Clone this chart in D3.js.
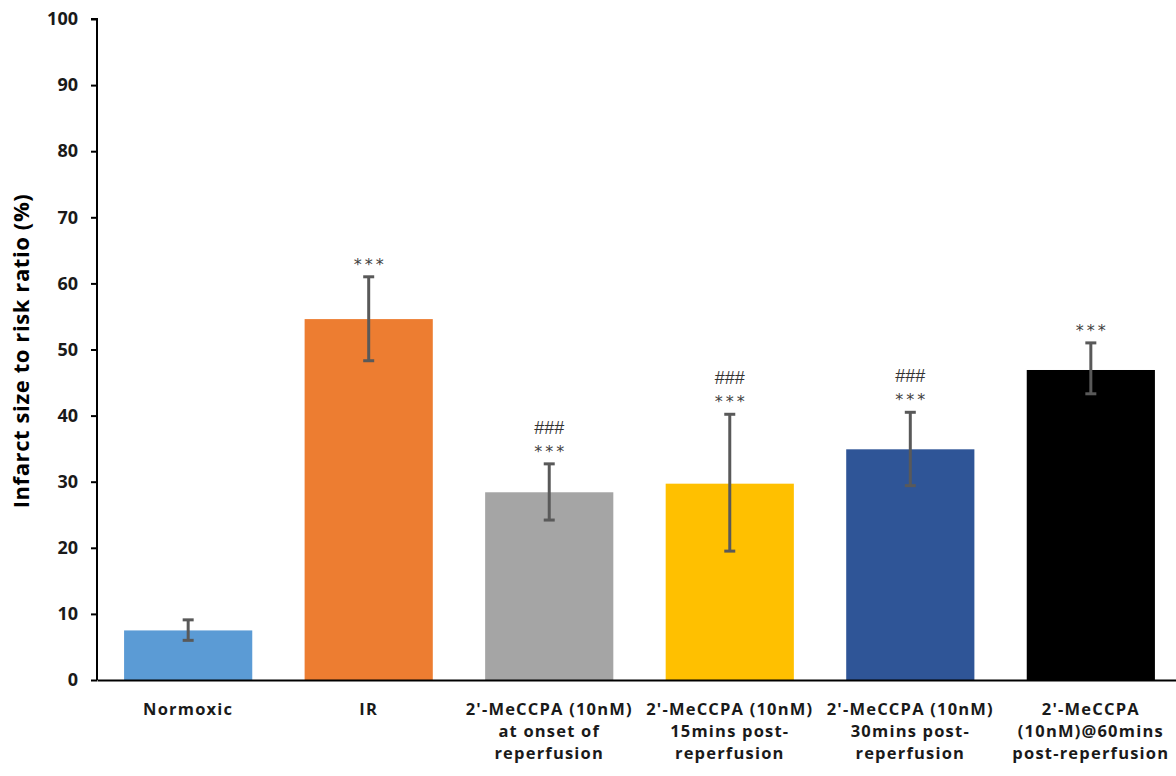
<!DOCTYPE html>
<html><head><meta charset="utf-8">
<script src="https://cdn.jsdelivr.net/npm/d3@7"></script>
<style>body{margin:0;background:#fff}svg{display:block}</style>
</head><body>
<svg id="c" width="1176" height="776"></svg>
<script>
const categories = ["Normoxic","IR","2'-MeCCPA (10nM)|at onset of|reperfusion","2'-MeCCPA (10nM)|15mins post-|reperfusion","2'-MeCCPA (10nM)|30mins post-|reperfusion","2'-MeCCPA|(10nM)@60mins|post-reperfusion"];
const values = [7.5, 54.6, 28.4, 29.7, 34.9, 46.9];
const errLow = [6.0, 48.3, 24.2, 19.5, 29.4, 43.3];
const errHigh = [9.1, 61.0, 32.7, 40.2, 40.5, 51.0];
const colors = ["#5b9bd5","#ed7d31","#a5a5a5","#ffc000","#2f5597","#000000"];
const stars = ["", "***", "***", "***", "***", "***"];
const hashes = ["", "", "###", "###", "###", ""];
const yTicks = [0,10,20,30,40,50,60,70,80,90,100];

const svg = d3.select("#c");
const mLeft = 97, mRight = 1182, mTop = 19, mBottom = 680;
const x = d3.scaleBand().domain(d3.range(categories.length)).range([mLeft, mRight]).paddingInner(0.29).paddingOuter(0.15);
const y = d3.scaleLinear().domain([0,100]).range([mBottom, mTop]);

const font = "'Open Sans', Lato, sans-serif";

// bars
svg.selectAll("rect.bar").data(values).enter().append("rect")
  .attr("x", (d,i)=>x(i)).attr("width", x.bandwidth())
  .attr("y", d=>y(d)).attr("height", d=>y(0)-y(d))
  .attr("fill", (d,i)=>colors[i]);

// y axis
const yAxis = d3.axisLeft(y).tickValues(yTicks).tickSize(6).tickPadding(13);
const gy = svg.append("g").attr("transform", `translate(${mLeft},0)`).call(yAxis);
gy.select(".domain").attr("stroke","#000").attr("stroke-width",2).attr("d", `M-6,${mTop}H0V${mBottom}`);
gy.selectAll(".tick line").attr("stroke","#000").attr("stroke-width",2);
gy.selectAll(".tick text").attr("font-family", font).attr("font-weight","bold").attr("font-size", 18).attr("fill","#1a1a1a");

// x axis
const gx = svg.append("g").attr("transform", `translate(0,${mBottom})`).call(d3.axisBottom(x).tickSize(0).tickFormat(""));
gx.select(".domain").attr("stroke","#000").attr("stroke-width",2);
gx.selectAll(".tick").each(function(d){
  const g = d3.select(this);
  g.select("text").remove();
  categories[d].split("|").forEach((line,k)=>{
    g.append("text").attr("x",0).attr("y", 35 + k*22).attr("text-anchor","middle")
      .attr("font-family", font).attr("font-weight","bold").attr("font-size",16.5).attr("letter-spacing",1.2)
      .attr("fill","#1a1a1a").text(line);
  });
});

// error bars
const eg = svg.append("g").attr("stroke","#595959").attr("stroke-width",3);
values.forEach((v,i)=>{
  const cx = x(i)+x.bandwidth()/2;
  eg.append("line").attr("x1",cx).attr("x2",cx).attr("y1",y(errLow[i])).attr("y2",y(errHigh[i]));
  eg.append("line").attr("x1",cx-5.5).attr("x2",cx+5.5).attr("y1",y(errLow[i])).attr("y2",y(errLow[i]));
  eg.append("line").attr("x1",cx-5.5).attr("x2",cx+5.5).attr("y1",y(errHigh[i])).attr("y2",y(errHigh[i]));
  if (stars[i]) svg.append("text").attr("x",cx+1.5).attr("y",y(errHigh[i])-7).attr("text-anchor","middle")
    .attr("font-family","'DejaVu Sans', sans-serif").attr("font-size",16).attr("letter-spacing",3).attr("fill","#404040").text(stars[i]);
  if (hashes[i]) svg.append("text").attr("x",cx).attr("y",y(errHigh[i])-30).attr("text-anchor","middle")
    .attr("font-family","'Liberation Sans', sans-serif").attr("font-size",18).attr("fill","#333").text(hashes[i]);
});

// y title
svg.append("text").attr("transform","translate(29,351) rotate(-90)").attr("text-anchor","middle")
  .attr("font-family", font).attr("font-weight","bold").attr("font-size",22).attr("letter-spacing",0.6).attr("fill","#000")
  .text("Infarct size to risk ratio (%)");
</script>
</body></html>
